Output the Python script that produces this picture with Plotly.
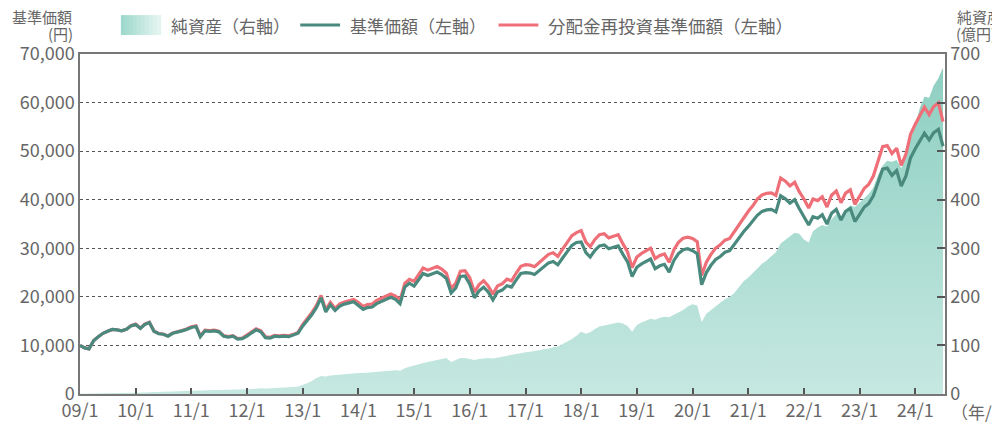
import plotly.graph_objects as go
import pandas as pd

# ---------------- data ----------------
months = pd.date_range("2009-01-01", "2024-07-01", freq="MS")

# 基準価額 (円), monthly
nav = [
    10000, 9500, 9300, 11000, 11800, 12500, 12900, 13300, 13200, 13000, 13300, 14000,
    14300, 13500, 14300, 14700, 12900, 12400, 12300, 11900, 12500, 12700, 13000, 13300,
    13700, 13900, 11800, 13000, 12900, 13000, 12800, 11900, 11700, 11900, 11300, 11400,
    11900, 12600, 13200, 12800, 11600, 11500, 11900, 11800, 11900, 11800, 12100, 12500,
    14000, 15200, 16300, 17800, 19800, 16900, 18400, 17200, 18100, 18500, 18700, 19000,
    18200, 17400, 17800, 17900, 18600, 19000, 19400, 19900, 19500, 18600, 22000, 22800,
    22200, 23500, 24800, 24400, 24800, 25100, 24600, 23800, 20800, 21800, 24200, 24300,
    22600, 19800, 21200, 22000, 21000, 19400, 21000, 21400, 22300, 22000, 23500, 24800,
    25000, 24900, 24600, 25400, 26100, 27000, 27300, 26600, 28000, 29400, 30600, 31200,
    31300, 29100, 28200, 29600, 30500, 30700, 29900, 30200, 30500, 28800, 27200, 24200,
    26100, 26800, 27300, 27800, 25800, 26400, 26700, 25100, 27500, 28900, 29700, 29900,
    29500, 28900, 22500, 25000, 26500, 27700, 28300, 29200, 29500, 30800, 32200, 33400,
    34500, 35600, 36800, 37600, 37900, 38000, 37500, 40800, 40200, 39300, 40000, 38200,
    36500, 34800, 36500, 36200, 36900, 35000, 37200, 38000, 35800, 37600, 38200, 35500,
    37000, 38500, 39200, 40800, 43500, 46300, 46500, 45000, 46000, 42800, 44900, 48600,
    50500, 52000, 53700, 52300, 53800, 54500, 51000,
]

# 分配金再投資基準価額 (円), monthly
nav_reinvested = [
    10000, 9500, 9300, 11000, 11800, 12500, 12900, 13300, 13200, 13000, 13300, 14050,
    14380, 13570, 14370, 14780, 12970, 12460, 12360, 11960, 12560, 12770, 13070, 13380,
    13840, 14040, 11920, 13130, 13030, 13130, 12930, 12020, 11820, 12020, 11420, 11520,
    12080, 12790, 13400, 12990, 11770, 11670, 12080, 11980, 12080, 11980, 12280, 12690,
    14350, 15580, 16710, 18250, 20300, 17320, 18860, 17630, 18550, 18960, 19170, 19480,
    18840, 18010, 18420, 18530, 19250, 19670, 20080, 20600, 20180, 19250, 22770, 23600,
    23200, 24560, 25920, 25500, 25920, 26230, 25710, 24870, 21740, 22780, 25290, 25390,
    23960, 20990, 22470, 23320, 22260, 20560, 22260, 22680, 23640, 23320, 24910, 26290,
    26630, 26520, 26200, 27050, 27800, 28760, 29070, 28330, 29820, 31310, 32590, 33230,
    33650, 31280, 30320, 31820, 32790, 33000, 32140, 32470, 32790, 30960, 29240, 26020,
    28190, 28940, 29480, 30020, 27860, 28510, 28840, 27110, 29700, 31210, 32080, 32290,
    32010, 31360, 24410, 27130, 28750, 30050, 30710, 31680, 32010, 33420, 34940, 36240,
    37610, 38800, 40110, 40980, 41310, 41420, 40880, 44470, 43820, 42840, 43600, 41640,
    40150, 38280, 40150, 39820, 40590, 38500, 40920, 41800, 39380, 41360, 42020, 39050,
    40700, 42350, 43120, 44880, 47850, 50930, 51150, 49500, 50600, 47080, 49390, 53460,
    55550, 57200, 59070, 57530, 59180, 59950, 56100,
]

# 純資産 (億円), monthly
net_assets = [
    0.5, 0.6, 0.7, 0.8, 1, 1.2, 1.4, 1.6, 1.8, 2, 2.2, 2.5,
    2.8, 3, 3.3, 3.6, 3.8, 4, 4.3, 4.6, 5, 5.3, 5.6, 6,
    6.5, 7, 6.8, 7.3, 7.7, 8, 8.3, 8.3, 8.5, 8.8, 9, 9.3,
    9.8, 10.5, 11.5, 11.8, 11.5, 11.8, 12.3, 12.8, 13.3, 13.8, 14.5, 15.5,
    18, 22, 27, 33, 37, 36, 38, 39, 40, 41, 42, 43,
    43, 43, 44, 45, 46, 46, 47, 48, 49, 48, 53, 56,
    58, 61, 64, 66, 68, 70, 72, 74, 66, 70, 74, 74,
    72, 70, 72, 73, 74, 73, 75, 76, 78, 80, 82, 85,
    86, 87, 88, 90, 92, 93, 96, 98, 103, 108, 113, 120,
    128, 124, 127, 134, 139, 141, 143, 144, 147, 145, 140, 128,
    142, 147, 151, 155, 153, 157, 159, 158, 163, 168, 173, 180,
    185, 182, 148, 165, 173, 180, 188, 195, 200, 208, 220, 232,
    240, 250, 258, 268, 275, 283, 292, 310, 318, 325, 332, 330,
    318, 312, 335, 343, 348, 345, 360, 370, 365, 380, 388, 385,
    395, 405, 412, 425, 450, 470, 480, 478, 482, 465, 490, 525,
    555, 590, 612, 610, 635, 650, 672,
]

tick_years = list(range(2009, 2025))
tick_labels = ["09/1", "10/1", "11/1", "12/1", "13/1", "14/1", "15/1", "16/1",
               "17/1", "18/1", "19/1", "20/1", "21/1", "22/1", "23/1", "24/1"]
left_ticks = [0, 10000, 20000, 30000, 40000, 50000, 60000, 70000]
right_ticks = [0, 100, 200, 300, 400, 500, 600, 700]

legend_names = ["純資産（右軸）", "基準価額（左軸）", "分配金再投資基準価額（左軸）"]

# ---------------- style ----------------
FONT = "Noto Sans CJK JP, Noto Sans, sans-serif"
TXT = "#666666"
GREEN = "#4a8a7e"
RED = "#ef6f78"
OFF = 8  # page body margin
W, H = 992, 426
L, R, T, B = 69, 55, 46, 39
PW, PH = W - L - R, H - T - B


def px(x):
    return (x - OFF - L) / PW


def py(y):
    return (OFF + H - B - y) / PH


fig = go.Figure()
fig.add_trace(go.Scatter(
    x=months, y=net_assets, yaxis="y", mode="lines",
    line=dict(width=0, color="#9fd6cb"), fill="tozeroy",
    fillgradient=dict(type="vertical", colorscale=[[0, "#c6e8e1"], [1, "#8dcfc1"]],
                      start=0, stop=680),
    name=legend_names[0], hoverinfo="skip"))
fig.add_trace(go.Scatter(
    x=months, y=nav_reinvested, yaxis="y2", mode="lines",
    line=dict(color=RED, width=3.2), name=legend_names[2]))
fig.add_trace(go.Scatter(
    x=months, y=nav, yaxis="y2", mode="lines",
    line=dict(color=GREEN, width=3.2), name=legend_names[1]))

fig.update_layout(
    width=W, height=H, margin=dict(l=L, r=R, t=T, b=B),
    paper_bgcolor="white", plot_bgcolor="white", showlegend=False,
    font=dict(family=FONT, color=TXT),
    xaxis=dict(
        type="date", range=["2009-01-01", "2024-07-14"],
        tickvals=[f"{y}-01-01" for y in tick_years], ticktext=tick_labels,
        ticks="inside", ticklen=6, tickwidth=1.5, tickcolor="#555",
        showline=True, linecolor="#777", linewidth=1.5, mirror=True,
        showgrid=False, zeroline=False,
        tickfont=dict(size=18, color=TXT, family=FONT)),
    yaxis=dict(
        range=[0, 700], side="right", tickvals=right_ticks,
        ticks="inside", ticklen=8, tickwidth=1.5, tickcolor="#555",
        showline=True, linecolor="#777", linewidth=1.5,
        showgrid=True, gridcolor="#555", gridwidth=1, griddash="3px,3px",
        zeroline=False, tickfont=dict(size=18, color=TXT, family=FONT)),
    yaxis2=dict(
        range=[0, 70000], overlaying="y", side="left", tickvals=left_ticks,
        tickformat=",d", ticks="", showline=True, linecolor="#777", linewidth=1.5,
        showgrid=False, zeroline=False,
        tickfont=dict(size=18, color=TXT, family=FONT)),
)

ann = []
shapes = []
# axis titles
ann.append(dict(text="基準価額", x=px(71), y=py(16), xanchor="right", yanchor="middle"))
ann.append(dict(text="(円)", x=px(72), y=py(33), xanchor="right", yanchor="middle"))
ann.append(dict(text="純資産", x=px(955), y=py(16), xanchor="left", yanchor="middle"))
ann.append(dict(text="(億円)", x=px(954), y=py(33), xanchor="left", yanchor="middle"))
ann.append(dict(text="（年/月）", x=px(949), y=py(413), xanchor="left", yanchor="middle",
                font=dict(size=17, color=TXT, family=FONT)))

# legend (manual)
swatch_cols = ["#9fd8cc", "#a6dbd0", "#addfd4", "#b5e2d8", "#bde5dc",
               "#c5e8e0", "#cdebe4", "#d4eee8", "#dcf1ec", "#e3f4f0"]
x0 = 118
sw = 40 / len(swatch_cols)
for i, c in enumerate(swatch_cols):
    shapes.append(dict(type="rect", xref="paper", yref="paper",
                       x0=px(x0 + i * sw), x1=px(x0 + (i + 1) * sw + 0.5),
                       y0=py(35), y1=py(15), fillcolor=c, line=dict(width=0)))
ann.append(dict(text=legend_names[0], x=px(166), y=py(25), xanchor="left", yanchor="middle",
                font=dict(size=17, color=TXT, family=FONT)))
shapes.append(dict(type="line", xref="paper", yref="paper", x0=px(298), x1=px(338),
                   y0=py(25), y1=py(25), line=dict(color=GREEN, width=3)))
ann.append(dict(text=legend_names[1], x=px(346), y=py(25), xanchor="left", yanchor="middle",
                font=dict(size=17, color=TXT, family=FONT)))
shapes.append(dict(type="line", xref="paper", yref="paper", x0=px(497), x1=px(537),
                   y0=py(25), y1=py(25), line=dict(color=RED, width=3)))
ann.append(dict(text=legend_names[2], x=px(545), y=py(25), xanchor="left", yanchor="middle",
                font=dict(size=17.5, color=TXT, family=FONT)))

for a in ann:
    a.setdefault("font", dict(size=15, color=TXT, family=FONT))
    a.update(xref="paper", yref="paper", showarrow=False)
fig.update_layout(annotations=ann, shapes=shapes)

fig.write_html("out.html")
